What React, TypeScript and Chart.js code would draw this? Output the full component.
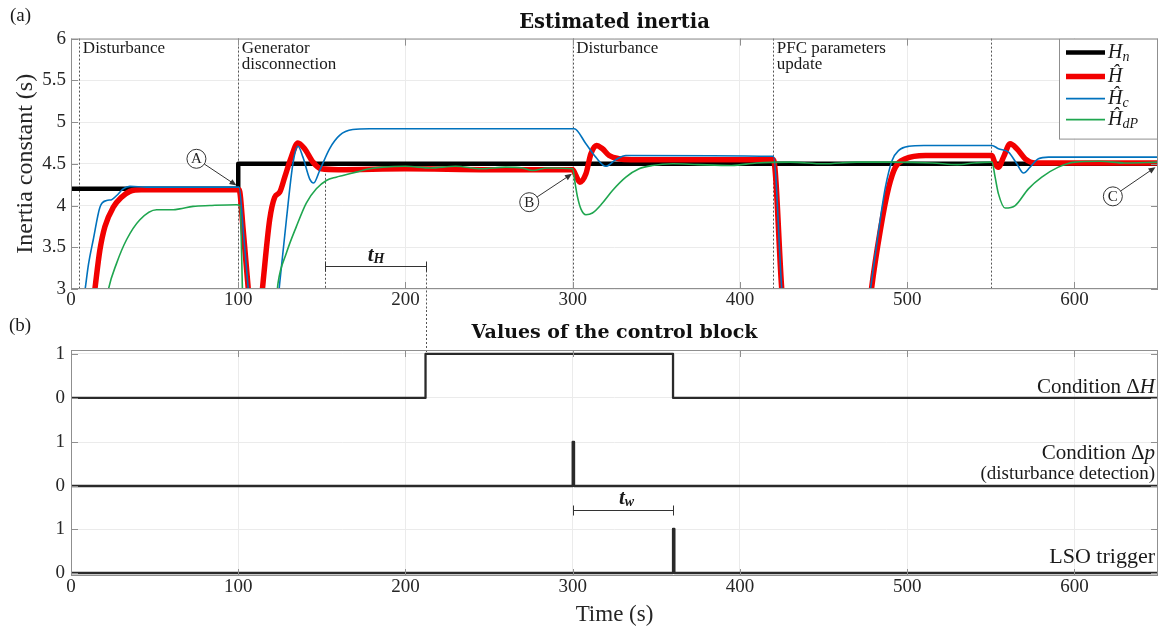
import { useEffect, useRef } from 'react';
import { Chart, registerables } from 'chart.js';

Chart.register(...registerables);

type Pt = [number, number];

// ---------- data ----------
const X_TICKS = [0, 100, 200, 300, 400, 500, 600];
const Y_TICKS_TOP = [3, 3.5, 4, 4.5, 5, 5.5, 6];
const SIGNAL_TICKS = [0, 1];

const H_N: Pt[] = [[0, 4.2], [100, 4.2], [100, 4.5], [650, 4.5]];

const H_HAT: Pt[] = [
  [0, 2.0], [12.5, 2.7], [14.3, 3.0], [17.3, 3.47], [20.3, 3.75], [25.3, 3.98], [30.2, 4.1], [35.2, 4.17],
  [42, 4.19], [100.5, 4.19], [103, 3.7], [106, 3.0], [108, 2.5], [112, 2.5], [114.8, 3.07], [118.8, 3.83],
  [121.8, 4.1], [124.8, 4.16], [127.8, 4.34], [131.7, 4.58], [135.7, 4.75], [139.7, 4.68], [144.7, 4.52],
  [149.7, 4.44], [160, 4.43], [200, 4.44], [250, 4.43], [300, 4.43], [301.9, 4.36], [304.3, 4.28],
  [307.9, 4.38], [310.9, 4.62], [314.2, 4.72], [317.8, 4.68], [321.8, 4.6], [327.8, 4.56], [335, 4.55],
  [420, 4.55], [425, 3.0], [427, 2.5], [476, 2.5], [478.6, 2.99], [484, 3.71], [489, 4.22], [493, 4.46],
  [499, 4.56], [511, 4.6], [550.7, 4.6], [552.6, 4.5], [554.6, 4.46], [557.6, 4.58], [561.6, 4.74],
  [565.6, 4.68], [570.6, 4.56], [576.5, 4.51], [650, 4.51],
];

const H_C: Pt[] = [
  [0, 2.0], [7, 2.8], [8.4, 2.99], [10.5, 3.3], [13.3, 3.59], [17.3, 3.98], [21.3, 4.06], [24.3, 4.07],
  [27.3, 4.12], [31.2, 4.2], [35.2, 4.23], [45, 4.22], [100.5, 4.22], [103, 3.7], [106, 3.0], [108, 2.5],
  [122, 2.5], [124.8, 3.07], [128.8, 3.83], [132.7, 4.5], [135.7, 4.71], [138.7, 4.58], [142.7, 4.32],
  [145.1, 4.27], [148.7, 4.42], [154.6, 4.68], [160.6, 4.84], [168.5, 4.91], [178.5, 4.92], [300.9, 4.92],
  [307.9, 4.74], [313.8, 4.58], [319.8, 4.47], [325.8, 4.55], [331.8, 4.6], [420, 4.59], [425, 3.0],
  [427, 2.5], [475, 2.5], [478, 2.99], [483, 3.71], [487, 4.22], [491, 4.54], [495, 4.66], [501, 4.71],
  [510, 4.72], [550.7, 4.72], [554.6, 4.68], [560.6, 4.64], [565.6, 4.5], [569.6, 4.39], [573.5, 4.46],
  [578.5, 4.56], [584.5, 4.58], [650, 4.58],
];

const H_DP: Pt[] = [
  [0, 2.0], [20, 2.7], [22.3, 2.99], [27.3, 3.31], [33.2, 3.59], [41.2, 3.83], [51.2, 3.95], [61.1, 3.95],
  [65, 3.96], [73, 3.99], [83, 4.0], [98.9, 4.01], [101, 4.0], [102.5, 3.0], [103, 2.5], [121, 2.5],
  [123.8, 3.07], [128.8, 3.43], [134.8, 3.75], [140.7, 4.03], [146.7, 4.2], [152.7, 4.3], [158.6, 4.34],
  [162.6, 4.36], [170.5, 4.4], [178.5, 4.44], [186.5, 4.46], [200, 4.47], [215, 4.45], [230, 4.47],
  [245, 4.44], [260, 4.46], [270, 4.45], [276, 4.42], [285, 4.45], [300, 4.44], [301.5, 4.26],
  [302.9, 4.1], [304.9, 3.96], [307.9, 3.89], [311.8, 3.91], [317.8, 4.03], [323.8, 4.18], [331.8, 4.34],
  [339.7, 4.44], [347.6, 4.48], [360, 4.5], [375, 4.49], [395, 4.48], [410, 4.51], [430, 4.52], [450, 4.5],
  [470, 4.52], [490, 4.52], [515, 4.51], [530, 4.49], [540, 4.51], [550.7, 4.52], [552.6, 4.34],
  [554.6, 4.14], [558.6, 3.97], [564.6, 4.0], [572.5, 4.2], [580.5, 4.34], [590.4, 4.46], [600.4, 4.52],
  [615, 4.53], [630, 4.51], [650, 4.52],
];

const COND_DH: Pt[] = [[0, 0], [212, 0], [212, 1], [360, 1], [360, 0], [650, 0]];
const COND_DP: Pt[] = [[0, 0], [300, 0], [300, 1], [300.8, 1], [300.8, 0], [650, 0]];
const LSO_TRIG: Pt[] = [[0, 0], [360, 0], [360, 1], [360.8, 1], [360.8, 0], [650, 0]];

const EVENT_TIMES = [5, 100, 300, 420, 550];
const EVENT_LABELS = [['Disturbance'], ['Generator', 'disconnection'], ['Disturbance'], ['PFC parameters', 'update'], []];

const T_H_START = 152;
const T_H_END = 212;
const T_W_START = 300;
const T_W_END = 360;

// ---------- styling helpers ----------
const SERIF = '"Liberation Serif", "Times New Roman", serif';
const BOLD_SERIF = '"DejaVu Serif", serif';
const FRAME = '#8f8f8f';
const GRID = '#ebebeb';
const INK = '#262626';

const toXY = (arr: Pt[]) => arr.map(([x, y]) => ({ x, y }));

type Seg = { t: string; f: string; dy?: number };
function drawRich(ctx: CanvasRenderingContext2D, x: number, y: number, segs: Seg[], align: 'left' | 'center' | 'right' = 'left', color = '#1a1a1a') {
  ctx.save();
  ctx.textBaseline = 'middle';
  ctx.textAlign = 'left';
  ctx.fillStyle = color;
  let w = 0;
  for (const s of segs) { ctx.font = s.f; w += ctx.measureText(s.t).width; }
  let cx = align === 'left' ? x : align === 'center' ? x - w / 2 : x - w;
  for (const s of segs) {
    ctx.font = s.f;
    ctx.fillText(s.t, cx, y + (s.dy || 0));
    cx += ctx.measureText(s.t).width;
  }
  ctx.restore();
}

function seg(ctx: CanvasRenderingContext2D, x1: number, y1: number, x2: number, y2: number) {
  ctx.beginPath();
  ctx.moveTo(x1, y1);
  ctx.lineTo(x2, y2);
  ctx.stroke();
}

function drawFrameAndTicks(ctx: CanvasRenderingContext2D, a: any, xs: number[], ys: number[]) {
  ctx.save();
  ctx.strokeStyle = FRAME;
  ctx.lineWidth = 1;
  ctx.setLineDash([]);
  ctx.strokeRect(a.left + 0.5, a.top + 0.5, a.right - a.left - 1, a.bottom - a.top - 1);
  const L = 7;
  for (const px of xs) {
    const p = Math.round(px) + 0.5;
    seg(ctx, p, a.bottom, p, a.bottom - L);
    seg(ctx, p, a.top, p, a.top + L);
  }
  for (const py of ys) {
    const p = Math.round(py) + 0.5;
    seg(ctx, a.left, p, a.left + L, p);
    seg(ctx, a.right, p, a.right - L, p);
  }
  ctx.restore();
}

function drawBar(ctx: CanvasRenderingContext2D, x1: number, x2: number, y: number) {
  ctx.save();
  ctx.strokeStyle = '#333';
  ctx.lineWidth = 1;
  ctx.setLineDash([]);
  const p = Math.round(y) + 0.5;
  seg(ctx, x1, p, x2, p);
  seg(ctx, x1, p - 5, x1, p + 5);
  seg(ctx, x2, p - 5, x2, p + 5);
  ctx.restore();
}

function callout(ctx: CanvasRenderingContext2D, letter: string, cx: number, cy: number, tx: number, ty: number) {
  const r = 9.5;
  ctx.save();
  ctx.strokeStyle = '#333';
  ctx.lineWidth = 1;
  ctx.setLineDash([]);
  ctx.beginPath();
  ctx.arc(cx, cy, r, 0, Math.PI * 2);
  ctx.fillStyle = '#fff';
  ctx.fill();
  ctx.stroke();
  const dx = tx - cx, dy = ty - cy;
  const d = Math.hypot(dx, dy);
  const ux = dx / d, uy = dy / d;
  seg(ctx, cx + ux * r, cy + uy * r, tx - ux * 5, ty - uy * 5);
  ctx.fillStyle = '#333';
  ctx.beginPath();
  ctx.moveTo(tx, ty);
  ctx.lineTo(tx - ux * 7 - uy * 3, ty - uy * 7 + ux * 3);
  ctx.lineTo(tx - ux * 7 + uy * 3, ty - uy * 7 - ux * 3);
  ctx.closePath();
  ctx.fill();
  ctx.restore();
  drawRich(ctx, cx, cy + 0.5, [{ t: letter, f: `15px ${SERIF}` }], 'center', '#222');
}

const CALLOUTS = [
  { letter: 'A', cx: 75, cy: 4.56, tx: 99, ty: 4.24 },
  { letter: 'B', cx: 274, cy: 4.04, tx: 299.6, ty: 4.38 },
  { letter: 'C', cx: 623, cy: 4.11, tx: 648.5, ty: 4.46 },
];

const LEGEND: { segs: Seg[] }[] = [
  { segs: [{ t: 'H', f: `italic 20px ${SERIF}` }, { t: 'n', f: `italic 14px ${SERIF}`, dy: 5 }] },
  { segs: [{ t: 'Ĥ', f: `italic 20px ${SERIF}` }] },
  { segs: [{ t: 'Ĥ', f: `italic 20px ${SERIF}` }, { t: 'c', f: `italic 14px ${SERIF}`, dy: 5 }] },
  { segs: [{ t: 'Ĥ', f: `italic 20px ${SERIF}` }, { t: 'dP', f: `italic 14px ${SERIF}`, dy: 5 }] },
];

const topDecor = {
  id: 'topDecor',
  beforeDatasetsDraw(chart: any) {
    const { ctx, chartArea: a, scales: { x, y } } = chart;
    ctx.save();
    ctx.strokeStyle = '#555';
    ctx.lineWidth = 1;
    ctx.setLineDash([2, 2]);
    for (const t of EVENT_TIMES) {
      const px = Math.round(x.getPixelForValue(t)) + 0.5;
      seg(ctx, px, a.top, px, a.bottom);
    }
    const p1 = Math.round(x.getPixelForValue(T_H_START)) + 0.5;
    seg(ctx, p1, y.getPixelForValue(4.38), p1, a.bottom);
    const p2 = Math.round(x.getPixelForValue(T_H_END)) + 0.5;
    seg(ctx, p2, y.getPixelForValue(3.27), p2, chart.height);
    ctx.restore();
  },
  afterDatasetsDraw(chart: any) {
    const { ctx, chartArea: a, scales: { x, y } } = chart;
    drawFrameAndTicks(ctx, a, X_TICKS.map((v) => x.getPixelForValue(v)), Y_TICKS_TOP.map((v) => y.getPixelForValue(v)));
    EVENT_TIMES.forEach((t, i) => {
      const px = x.getPixelForValue(t) + 3.5;
      EVENT_LABELS[i].forEach((txt, j) => {
        drawRich(ctx, px, a.top + 10 + j * 16, [{ t: txt, f: `17px ${SERIF}` }], 'left');
      });
    });
    for (const c of CALLOUTS) {
      callout(ctx, c.letter, x.getPixelForValue(c.cx), y.getPixelForValue(c.cy), x.getPixelForValue(c.tx), y.getPixelForValue(c.ty));
    }
    const bx1 = Math.round(x.getPixelForValue(T_H_START)) + 0.5;
    const bx2 = Math.round(x.getPixelForValue(T_H_END)) + 0.5;
    drawBar(ctx, bx1, bx2, y.getPixelForValue(3.27));
    drawRich(ctx, (bx1 + bx2) / 2, y.getPixelForValue(3.4), [
      { t: 't', f: `italic bold 21px ${SERIF}` },
      { t: 'H', f: `italic bold 14px ${SERIF}`, dy: 4 },
    ], 'center');
    const lw = 98, lh = 100;
    const lx = a.right - lw - 1, ly = a.top;
    ctx.save();
    ctx.fillStyle = '#fff';
    ctx.fillRect(lx, ly, lw, lh);
    ctx.strokeStyle = FRAME;
    ctx.lineWidth = 1;
    ctx.strokeRect(lx + 0.5, ly + 0.5, lw, lh);
    const rows = [14, 38, 60, 81];
    chart.data.datasets.forEach((ds: any, i: number) => {
      const yy = ly + rows[i];
      ctx.strokeStyle = ds.borderColor;
      ctx.lineWidth = ds.borderWidth;
      seg(ctx, lx + 7, yy, lx + 46, yy);
      drawRich(ctx, lx + 49, yy, LEGEND[i].segs, 'left');
    });
    ctx.restore();
    drawRich(ctx, 10, 16, [{ t: '(a)', f: `19px ${SERIF}` }], 'left');
  },
};

const botDecor = {
  id: 'botDecor',
  beforeDatasetsDraw(chart: any) {
    const { ctx, scales: { x, yDH } } = chart;
    ctx.save();
    ctx.strokeStyle = '#555';
    ctx.lineWidth = 1;
    ctx.setLineDash([2, 2]);
    const p2 = Math.round(x.getPixelForValue(T_H_END)) + 0.5;
    seg(ctx, p2, 0, p2, yDH.getPixelForValue(1));
    ctx.restore();
  },
  afterDatasetsDraw(chart: any) {
    const { ctx, chartArea: a, scales: { x, yDH, yDP, yLSO } } = chart;
    const ys: number[] = [];
    for (const s of [yDH, yDP, yLSO]) for (const v of SIGNAL_TICKS) ys.push(s.getPixelForValue(v));
    drawFrameAndTicks(ctx, a, X_TICKS.map((v) => x.getPixelForValue(v)), ys);
    const rx = a.right - 3;
    drawRich(ctx, rx, yDH.getPixelForValue(0.23), [
      { t: 'Condition Δ', f: `21px ${SERIF}` },
      { t: 'H', f: `italic 21px ${SERIF}` },
    ], 'right');
    drawRich(ctx, rx, yDP.getPixelForValue(0.75), [
      { t: 'Condition Δ', f: `21px ${SERIF}` },
      { t: 'p', f: `italic 21px ${SERIF}` },
    ], 'right');
    drawRich(ctx, rx, yDP.getPixelForValue(0.27), [{ t: '(disturbance detection)', f: `19px ${SERIF}` }], 'right');
    drawRich(ctx, rx, yLSO.getPixelForValue(0.36), [{ t: 'LSO trigger', f: `22px ${SERIF}` }], 'right');
    const bx1 = Math.round(x.getPixelForValue(T_W_START)) + 0.5;
    const bx2 = Math.round(x.getPixelForValue(T_W_END)) + 0.5;
    drawBar(ctx, bx1, bx2, yLSO.getPixelForValue(1.43));
    drawRich(ctx, (bx1 + bx2) / 2 + 3, yLSO.getPixelForValue(1.7), [
      { t: 't', f: `italic bold 21px ${SERIF}` },
      { t: 'w', f: `italic bold 14px ${SERIF}`, dy: 4 },
    ], 'center');
    drawRich(ctx, 9, 16.5, [{ t: '(b)', f: `19px ${SERIF}` }], 'left');
  },
};

const xAxis = (extra: any = {}) => ({
  type: 'linear',
  min: 0,
  max: 650,
  afterBuildTicks: (s: any) => { s.ticks = X_TICKS.map((v) => ({ value: v })); },
  grid: { color: GRID, drawTicks: false },
  border: { display: false },
  ticks: { font: { family: SERIF, size: 19 }, color: INK, padding: 0, maxRotation: 0, autoSkip: false, callback: (v: any) => String(v) },
  ...extra,
});

const sigAxis = (min: number, max: number) => ({
  type: 'linear',
  position: 'left',
  stack: 'signals',
  stackWeight: 1,
  min,
  max,
  afterBuildTicks: (s: any) => { s.ticks = SIGNAL_TICKS.map((v) => ({ value: v })); },
  afterFit: (s: any) => { s.width = 71; },
  grid: { color: GRID, drawTicks: false },
  border: { display: false },
  ticks: { font: { family: SERIF, size: 19 }, color: INK, padding: 6, callback: (v: any) => String(v) },
});

const lineCommon = { pointRadius: 0, pointHoverRadius: 0, fill: false, clip: 0, borderJoinStyle: 'round', borderCapStyle: 'butt' };

export default function App() {
  const topRef = useRef<HTMLCanvasElement>(null);
  const botRef = useRef<HTMLCanvasElement>(null);

  useEffect(() => {
    const top = new Chart(topRef.current as HTMLCanvasElement, {
      type: 'line',
      data: {
        datasets: [
          { ...lineCommon, label: 'Hn', data: toXY(H_N), borderColor: '#000000', borderWidth: 4.5, order: 3, tension: 0 },
          { ...lineCommon, label: 'H hat', data: toXY(H_HAT), borderColor: '#f20000', borderWidth: 5.5, order: 2, cubicInterpolationMode: 'monotone' },
          { ...lineCommon, label: 'Hc hat', data: toXY(H_C), borderColor: '#0072bd', borderWidth: 1.6, order: 1, cubicInterpolationMode: 'monotone' },
          { ...lineCommon, label: 'HdP hat', data: toXY(H_DP), borderColor: '#1fa64f', borderWidth: 1.6, order: 0, cubicInterpolationMode: 'monotone' },
        ],
      } as any,
      options: {
        responsive: false,
        animation: false,
        devicePixelRatio: 1,
        events: [],
        layout: { padding: { left: 0, right: 0, top: 0, bottom: 0 } },
        plugins: {
          legend: { display: false },
          tooltip: { enabled: false },
          title: {
            display: true,
            text: 'Estimated inertia',
            fullSize: false,
            color: '#111',
            font: { family: BOLD_SERIF, size: 19.5, weight: 'bold' },
            padding: { top: 11.6, bottom: 3.6 },
          },
        },
        scales: {
          x: xAxis({ afterFit: (s: any) => { s.height = 21; } }),
          y: {
            type: 'linear',
            min: 3,
            max: 6,
            afterBuildTicks: (s: any) => { s.ticks = Y_TICKS_TOP.map((v) => ({ value: v })); },
            afterFit: (s: any) => { s.width = 71; },
            grid: { color: GRID, drawTicks: false },
            border: { display: false },
            ticks: { font: { family: SERIF, size: 19 }, color: INK, padding: 5, callback: (v: any) => String(v) },
            title: { display: true, text: 'Inertia constant (s)', color: INK, font: { family: SERIF, size: 24 }, padding: { top: 11, bottom: 0 } },
          },
        },
      } as any,
      plugins: [topDecor],
    });

    const bot = new Chart(botRef.current as HTMLCanvasElement, {
      type: 'line',
      data: {
        datasets: [
          { ...lineCommon, label: 'Condition ΔH', data: toXY(COND_DH), borderColor: '#2a2a2a', borderWidth: 2.3, tension: 0, yAxisID: 'yDH' },
          { ...lineCommon, label: 'Condition Δp', data: toXY(COND_DP), borderColor: '#2a2a2a', borderWidth: 2.3, tension: 0, yAxisID: 'yDP' },
          { ...lineCommon, label: 'LSO trigger', data: toXY(LSO_TRIG), borderColor: '#2a2a2a', borderWidth: 2.3, tension: 0, yAxisID: 'yLSO' },
        ],
      } as any,
      options: {
        responsive: false,
        animation: false,
        devicePixelRatio: 1,
        events: [],
        layout: { padding: { left: 0, right: 0, top: 0, bottom: 0 } },
        plugins: {
          legend: { display: false },
          tooltip: { enabled: false },
          title: {
            display: true,
            text: 'Values of the control block',
            fullSize: false,
            color: '#111',
            font: { family: BOLD_SERIF, size: 19, weight: 'bold' },
            padding: { top: 11.6, bottom: 5.6 },
          },
        },
        scales: {
          x: xAxis({
            afterFit: (s: any) => { s.height = 53; },
            title: { display: true, text: 'Time (s)', color: INK, font: { family: SERIF, size: 23 }, padding: { top: 0, bottom: 0 } },
          }),
          // stacked left axes: the last one defined is placed on top
          yLSO: sigAxis(-0.068, 1.644),
          yDP: sigAxis(-0.333, 1.379),
          yDH: sigAxis(-0.622, 1.09),
        },
      } as any,
      plugins: [botDecor],
    });

    return () => {
      top.destroy();
      bot.destroy();
    };
  }, []);

  return (
    <div style={{ position: 'absolute', left: 0, top: 0, width: 1158, height: 629, background: '#fff' }}>
      <canvas ref={topRef} width={1158} height={310} style={{ position: 'absolute', left: 0, top: 0, width: 1158, height: 310 }} />
      <canvas ref={botRef} width={1158} height={319} style={{ position: 'absolute', left: 0, top: 310, width: 1158, height: 319 }} />
    </div>
  );
}
